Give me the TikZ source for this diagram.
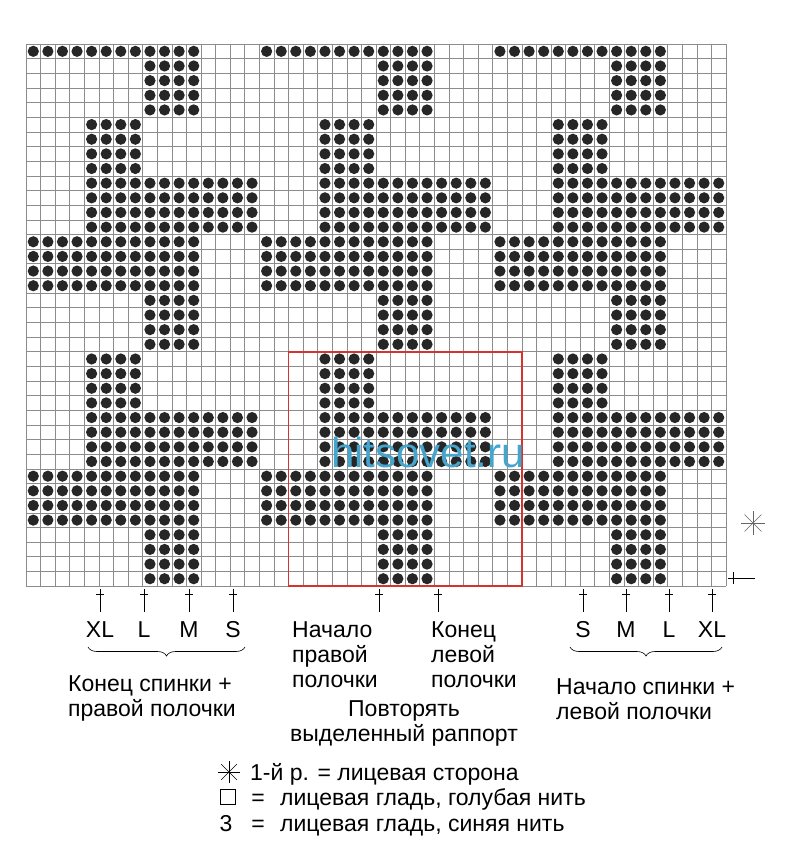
\documentclass[tikz,border=0pt]{standalone}
\usepackage{fontspec}
\setmainfont{Liberation Sans}
\usetikzlibrary{decorations.pathreplacing}

\definecolor{chartred}{RGB}{214,50,46}
\definecolor{markblue}{RGB}{70,165,205}

\tikzset{
  cell/.style={draw=black!45, line width=0.55pt},
  stitch/.style={fill=black!85},
  repeatbox/.style={draw=chartred, line width=1.7pt},
  tickline/.style={line width=0.8pt},
  sizelabel/.style={font=\fontsize{23}{25}\selectfont, inner sep=0pt, anchor=base},
  note/.style={font=\fontsize{23}{25}\selectfont, align=left, inner sep=0pt},
  legend/.style={font=\fontsize{23}{25}\selectfont, inner sep=0pt, anchor=base west},
  bracebar/.style={decorate, decoration={brace, amplitude=9pt}, line width=0.6pt},
  starline/.style={line width=0.6pt}
}

\begin{document}
\begin{tikzpicture}[x=1pt, y=-1pt]
  \useasboundingbox (0,0) rectangle (800,848);
  \fill[white] (0,0) rectangle (800,848);

  % chart: 48 x 37 cells, motif repeats every 16
  \begin{scope}[shift={(26,44)}, x=14.583pt, y=-14.65pt]
    \foreach \i in {0,...,48} \draw[cell] (\i,0) -- (\i,37);
    \foreach \j in {0,...,37} \draw[cell] (0,\j) -- (48,\j);
    \foreach \o in {0,16,32} {
      \foreach \r in {0,13,14,15,16,29,30,31,32}
        \foreach \c in {0,...,11} \fill[stitch] (\o+\c+.5,\r+.5) circle (5.6pt);
      \foreach \r in {1,2,3,4,17,18,19,20,33,34,35,36}
        \foreach \c in {8,...,11} \fill[stitch] (\o+\c+.5,\r+.5) circle (5.6pt);
      \foreach \r in {5,6,7,8,21,22,23,24}
        \foreach \c in {4,...,7} \fill[stitch] (\o+\c+.5,\r+.5) circle (5.6pt);
      \foreach \r in {9,10,11,12,25,26,27,28}
        \foreach \c in {4,...,15} \fill[stitch] (\o+\c+.5,\r+.5) circle (5.6pt);
    }
    \draw[repeatbox] (18,21) rectangle (34,37);
  \end{scope}

  \node[text=markblue, font=\fontsize{42}{42}\selectfont, inner sep=0pt] (mark) at (428,452) {hitsovet.ru};

  % row marks at the right
  \coordinate (firstrow) at (733,578);
  \draw[tickline] (firstrow) ++(0,-6) -- ++(0,12);
  \draw[tickline] (firstrow) ++(-5,0) -- ++(27,0);
  \coordinate (rs) at (753,523);
  \foreach \a in {0,45,90,135}
    \draw[starline, black!60] (rs) ++(\a:12) -- ++(\a+180:24);

  % size ticks
  \foreach \x/\n in {100/XL,144/L,189/M,233/S} {
    \draw[tickline] (\x,589) -- (\x,612);
    \draw[tickline] (\x-4,594) -- (\x+4,594);
    \node[sizelabel] (l\n) at (\x,637) {\n};
  }
  \foreach \x/\n in {583/S,626/M,669/L,712/XL} {
    \draw[tickline] (\x,589) -- (\x,612);
    \draw[tickline] (\x-4,594) -- (\x+4,594);
    \node[sizelabel] (r\n) at (\x,637) {\n};
  }
  \foreach \x/\n in {379/start,438/stop} {
    \draw[tickline] (\x,589) -- (\x,612);
    \draw[tickline] (\x-4,594) -- (\x+4,594);
  }

  \node[note, anchor=north west] (rstart) at (292,621) {Начало\\правой\\полочки};
  \node[note, anchor=north west] (lstop) at (431,621) {Конец\\левой\\полочки};

  \draw[bracebar] (245,647) -- (88,647);
  \draw[bracebar] (722,647) -- (570,647);

  \node[note, anchor=north west] (backend) at (68,675) {Конец спинки +\\правой полочки};
  \node[note, anchor=north west] (backstart) at (556,678) {Начало спинки +\\левой полочки};
  \node[note, align=center, anchor=north] (repeat) at (404,700) {Повторять\\выделенный раппорт};

  % legend
  \coordinate (ls) at (229,772);
  \foreach \a in {0,45,90,135}
    \draw[starline] (ls) ++(\a:11) -- ++(\a+180:22);
  \node[legend] (l1) at (250,780) {1-й р. = лицевая сторона};
  \node[draw, line width=0.6pt, minimum size=15pt, inner sep=0pt] (sq) at (228,797) {};
  \node[legend, anchor=base] (eq1) at (258,805) {=};
  \node[legend] (l2) at (280,805) {лицевая гладь, голубая нить};
  \node[legend, anchor=base] (three) at (226,831) {3};
  \node[legend, anchor=base] (eq2) at (258,831) {=};
  \node[legend] (l3) at (280,831) {лицевая гладь, синяя нить};
\end{tikzpicture}
\end{document}
